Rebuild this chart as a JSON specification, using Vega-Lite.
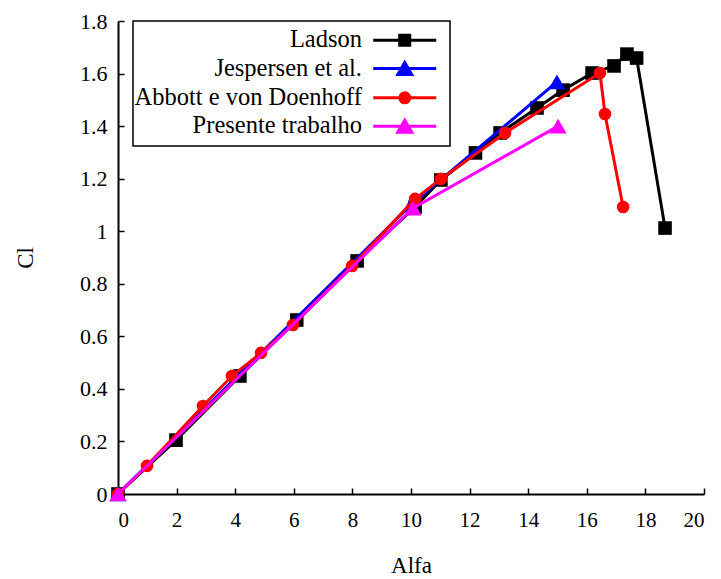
{
  "$schema": "https://vega.github.io/schema/vega-lite/v6.json",
  "width": 586,
  "height": 473,
  "autosize": {"type": "none"},
  "padding": {"left": 118, "top": 21, "right": 17, "bottom": 85},
  "background": "white",
  "config": {
    "view": {"stroke": null},
    "font": "Liberation Serif",
    "axis": {
      "grid": false,
      "domainColor": "black",
      "domainWidth": 2,
      "tickColor": "black",
      "tickWidth": 1.5,
      "tickSize": -6,
      "labelFont": "Liberation Serif",
      "labelFontSize": 21,
      "labelColor": "black",
      "titleFont": "Liberation Serif",
      "titleFontSize": 23,
      "titleFontWeight": "normal",
      "titleColor": "black"
    }
  },
  "data": {
    "values": [
      {"series": "Ladson", "alfa": 0, "cl": 0},
      {"series": "Ladson", "alfa": 1.98, "cl": 0.205},
      {"series": "Ladson", "alfa": 4.16, "cl": 0.449},
      {"series": "Ladson", "alfa": 6.1, "cl": 0.662},
      {"series": "Ladson", "alfa": 8.16, "cl": 0.887},
      {"series": "Ladson", "alfa": 10.14, "cl": 1.092},
      {"series": "Ladson", "alfa": 11.02, "cl": 1.195},
      {"series": "Ladson", "alfa": 12.2, "cl": 1.298},
      {"series": "Ladson", "alfa": 13.04, "cl": 1.374},
      {"series": "Ladson", "alfa": 14.3, "cl": 1.469},
      {"series": "Ladson", "alfa": 15.19, "cl": 1.537},
      {"series": "Ladson", "alfa": 16.18, "cl": 1.602},
      {"series": "Ladson", "alfa": 16.93, "cl": 1.629},
      {"series": "Ladson", "alfa": 17.37, "cl": 1.674},
      {"series": "Ladson", "alfa": 17.7, "cl": 1.659},
      {"series": "Ladson", "alfa": 18.67, "cl": 1.012},
      {"series": "Jespersen et al.", "alfa": 0, "cl": 0},
      {"series": "Jespersen et al.", "alfa": 10.0, "cl": 1.1},
      {"series": "Jespersen et al.", "alfa": 14.98, "cl": 1.568},
      {"series": "Abbott e von Doenhoff", "alfa": 0, "cl": 0},
      {"series": "Abbott e von Doenhoff", "alfa": 0.99, "cl": 0.107},
      {"series": "Abbott e von Doenhoff", "alfa": 2.9, "cl": 0.335},
      {"series": "Abbott e von Doenhoff", "alfa": 3.89, "cl": 0.449},
      {"series": "Abbott e von Doenhoff", "alfa": 4.88, "cl": 0.537},
      {"series": "Abbott e von Doenhoff", "alfa": 5.97, "cl": 0.643},
      {"series": "Abbott e von Doenhoff", "alfa": 7.99, "cl": 0.868},
      {"series": "Abbott e von Doenhoff", "alfa": 10.14, "cl": 1.123},
      {"series": "Abbott e von Doenhoff", "alfa": 11.02, "cl": 1.199},
      {"series": "Abbott e von Doenhoff", "alfa": 13.21, "cl": 1.374},
      {"series": "Abbott e von Doenhoff", "alfa": 16.45, "cl": 1.602},
      {"series": "Abbott e von Doenhoff", "alfa": 16.62, "cl": 1.446},
      {"series": "Abbott e von Doenhoff", "alfa": 17.24, "cl": 1.092},
      {"series": "Presente trabalho", "alfa": 0, "cl": 0},
      {"series": "Presente trabalho", "alfa": 10.07, "cl": 1.088},
      {"series": "Presente trabalho", "alfa": 15.02, "cl": 1.4}
    ]
  },
  "encoding": {
    "x": {
      "field": "alfa",
      "type": "quantitative",
      "scale": {"domain": [0, 20], "nice": false, "zero": false},
      "axis": {
        "title": "Alfa",
        "values": [0, 2, 4, 6, 8, 10, 12, 14, 16, 18, 20],
        "labelPadding": 21,
        "titlePadding": 24
      }
    },
    "y": {
      "field": "cl",
      "type": "quantitative",
      "scale": {"domain": [0, 1.8], "nice": false, "zero": false},
      "axis": {
        "title": "Cl",
        "values": [0, 0.2, 0.4, 0.6, 0.8, 1, 1.2, 1.4, 1.6, 1.8],
        "format": "~g",
        "labelFontSize": 22,
        "labelPadding": 17,
        "titlePadding": 42
      }
    },
    "color": {
      "field": "series",
      "type": "nominal",
      "scale": {
        "domain": ["Ladson", "Jespersen et al.", "Abbott e von Doenhoff", "Presente trabalho"],
        "range": ["#000000", "#0000ff", "#ff0000", "#ff00ff"]
      },
      "legend": {
        "title": null,
        "orient": "none",
        "legendX": 15,
        "legendY": 0,
        "direction": "vertical",
        "padding": 7,
        "fillColor": "white",
        "strokeColor": "black",
        "cornerRadius": 0,
        "labelFont": "Liberation Serif",
        "labelFontSize": 24.5,
        "labelColor": "black",
        "labelAlign": "right",
        "labelLimit": 400,
        "labelOffset": -55,
        "symbolOffset": 252.5,
        "symbolSize": 300,
        "symbolStrokeWidth": 3,
        "rowPadding": 3.3,
        "encode": {
          "legend": {
            "update": {"strokeWidth": {"value": 1.5}}
          },
          "symbols": {
            "update": {
              "shape": {"signal": "datum.value === 'Ladson' ? 'M-3.64,0H3.64M-0.58,-0.58H0.58V0.58H-0.58Z' : datum.value === 'Abbott e von Doenhoff' ? 'M-3.64,0H3.64M-0.58,0A0.58,0.58 0 1,0 0.58,0A0.58,0.58 0 1,0 -0.58,0Z' : 'M-3.64,0H3.64M0,-0.69L0.8,0.69H-0.8Z'"},
              "stroke": {"scale": "color", "field": "value"},
              "fill": {"scale": "color", "field": "value"},
              "strokeWidth": {"value": 3},
              "opacity": {"value": 1}
            }
          }
        }
      }
    }
  },
  "layer": [
    {"transform": [{"filter": "datum.series === 'Ladson'"}], "mark": {"type": "line", "strokeWidth": 3}},
    {"transform": [{"filter": "datum.series === 'Ladson'"}], "mark": {"type": "point", "filled": true, "opacity": 1, "shape": "square", "size": 185}},
    {"transform": [{"filter": "datum.series === 'Jespersen et al.'"}], "mark": {"type": "line", "strokeWidth": 3}},
    {"transform": [{"filter": "datum.series === 'Jespersen et al.'"}], "mark": {"type": "point", "filled": true, "opacity": 1, "shape": "triangle-up", "size": 290}},
    {"transform": [{"filter": "datum.series === 'Abbott e von Doenhoff'"}], "mark": {"type": "line", "strokeWidth": 3}},
    {"transform": [{"filter": "datum.series === 'Abbott e von Doenhoff'"}], "mark": {"type": "point", "filled": true, "opacity": 1, "shape": "circle", "size": 160}},
    {"transform": [{"filter": "datum.series === 'Presente trabalho'"}], "mark": {"type": "line", "strokeWidth": 3}},
    {"transform": [{"filter": "datum.series === 'Presente trabalho'"}], "mark": {"type": "point", "filled": true, "opacity": 1, "shape": "triangle-up", "size": 290}}
  ]
}
